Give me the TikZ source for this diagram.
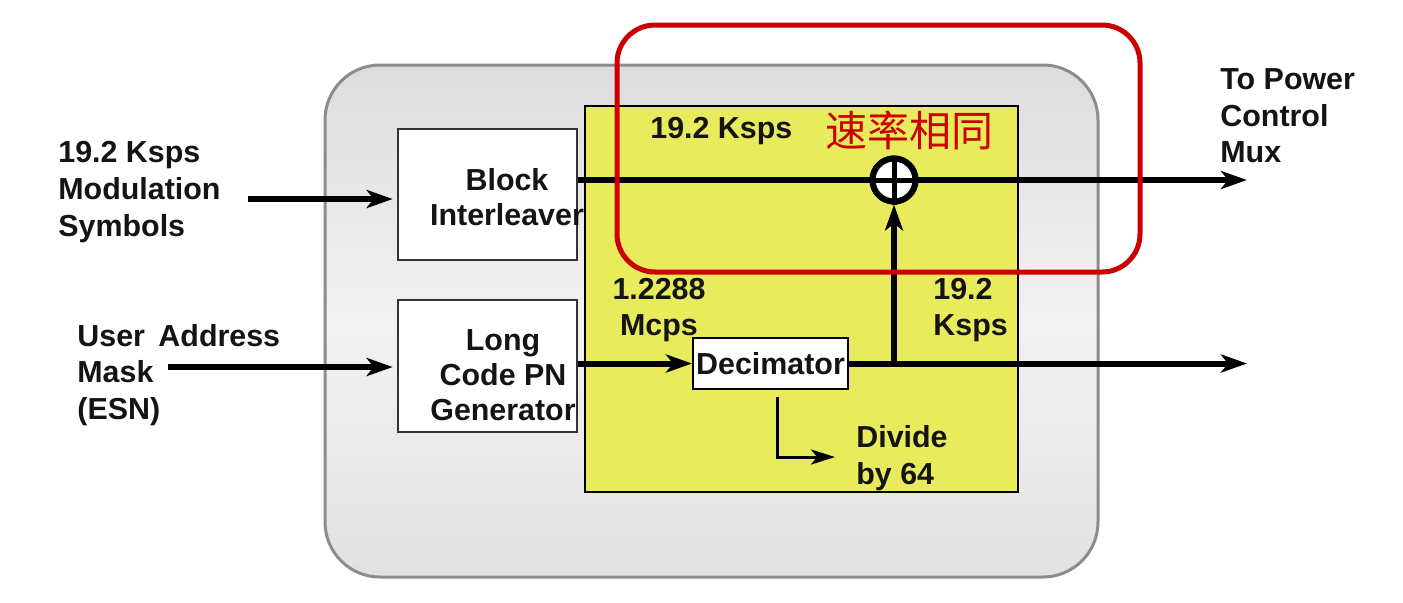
\documentclass[tikz,border=0pt]{standalone}
\usepackage{fontspec}
\setmainfont{Liberation Sans}
\newfontfamily\cjk{Noto Sans CJK SC}
\usetikzlibrary{arrows.meta}
\definecolor{yelfill}{RGB}{232,236,92}
\definecolor{redbox}{RGB}{204,0,0}
\definecolor{grayline}{RGB}{140,140,140}
\definecolor{txt}{RGB}{20,20,20}
\begin{document}
\begin{tikzpicture}[x=0.5pt,y=-0.5pt,
  lbl/.style={font=\bfseries\fontsize{15.2}{18.3}\selectfont, text=txt, inner sep=0, align=left},
  boxtxt/.style={font=\bfseries\fontsize{15.2}{17.5}\selectfont, text=txt, inner sep=0, align=center},
  wbox/.style={draw=black!80, line width=1.3pt, fill=white, minimum width=89.5pt, inner sep=0},
  bigarrow/.style={line width=3pt, -{Stealth[length=13pt,width=9pt,inset=3.5pt]}},
  midarrow/.style={line width=1.5pt, -{Stealth[length=12pt,width=7.5pt,inset=3pt]}}]
\useasboundingbox (0,0) rectangle (1403,602);
\fill[white] (0,0) rectangle (1403,602);
% containers
\node[draw=grayline, line width=1.5pt, rounded corners=27.5pt, minimum width=386.5pt, minimum height=256pt,
  top color=gray!27, bottom color=gray!23, middle color=gray!10, inner sep=0] (grp) at (711.5,321) {};
\node[draw=black, line width=1pt, fill=yelfill, minimum width=216.5pt, minimum height=193pt, inner sep=0] (yel) at (801.5,299) {};
% blocks
\node[wbox, minimum height=65.5pt] (bi) at (487.5,194.5) {};
\node[wbox, minimum height=66pt] (lc) at (487.5,366) {};
\node[draw=black, line width=1pt, fill=white, minimum width=77.5pt, minimum height=25.5pt, inner sep=0,
  font=\bfseries\fontsize{15.2}{17.5}\selectfont, text=txt] (dec) at (770.5,363.5) {\raisebox{-2pt}{Decimator}};
\node[boxtxt] (bitxt) at (507,197.5) {Block\\Interleaver};
\node[boxtxt] (lctxt) at (503,375) {Long\\Code PN\\Generator};
% connectors
\coordinate (in1) at (248,199);
\coordinate (in2) at (168,367);
\coordinate (out1) at (1247,180);
\coordinate (out2) at (1247,364);
\coordinate (dvend) at (835,457);
\node[circle, draw=black, fill=white, line width=3pt, minimum size=21.5pt, inner sep=0] (xor) at (894,180) {};
\draw[bigarrow, shorten >=2pt] (in1) -- (in1 -| bi.west);
\draw[bigarrow, shorten >=2pt] (in2) -- (in2 -| lc.west);
\draw[bigarrow] (bi.east |- out1) -- (out1);
\draw[bigarrow] (dec.east) -- (out2 |- dec.east);
\draw[bigarrow] (lc.east |- dec.west) -- (dec.west);
\draw[bigarrow] (xor |- dec.east) -- (xor.south);
\draw[midarrow] ([xshift=3.5pt,yshift=-3.5pt]dec.south) |- (dvend);
\node[circle, draw=black, fill=white, line width=3pt, minimum size=21.5pt, inner sep=0] (xorring) at (xor) {};
\draw[line width=2.5pt] (xorring.north) -- (xorring.south) (xorring.west) -- (xorring.east);
% labels
\node[lbl, anchor=west] (l1) at (58,192) {19.2 Ksps\\Modulation\\Symbols};
\node[lbl, anchor=west] (l2) at (77,375) {User\,\ Address\\Mask\\(ESN)};
\node[lbl, anchor=west] (l3) at (1220,116) {To Power\\Control\\Mux};
\node[lbl, anchor=west] (l4) at (650,131) {19.2 Ksps};
\node[anchor=west, inner sep=0, text=redbox, font=\cjk\fontsize{21}{24}\selectfont] (l5) at (825,130) {速率相同};
\node[lbl, align=center] (l6) at (659,310) {1.2288\\Mcps};
\node[lbl, anchor=west] (l7) at (933,310) {19.2\\Ksps};
\node[lbl, anchor=west] (l8) at (856,458) {Divide\\by 64};
% highlight
\node[draw=redbox, line width=2.5pt, rounded corners=19pt, minimum width=261.5pt, minimum height=123.5pt, inner sep=0] (hl) at (878.5,148.5) {};
\end{tikzpicture}
\end{document}
